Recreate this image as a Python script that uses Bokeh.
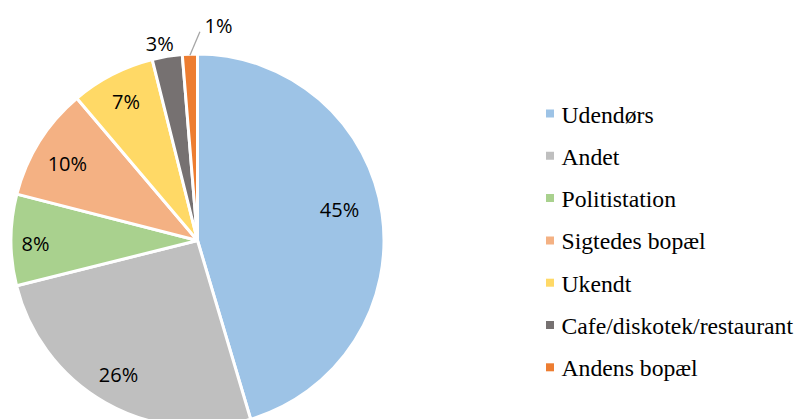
import math
from bokeh.plotting import figure
from bokeh.models import Range1d
from bokeh.core.properties import value
from bokeh.embed import file_html
from bokeh.resources import INLINE

# ---- data ----
categories = ["Udendørs", "Andet", "Politistation", "Sigtedes bopæl",
              "Ukendt", "Cafe/diskotek/restaurant", "Andens bopæl"]
shares = [45.4, 25.7, 7.9, 9.8, 7.3, 2.6, 1.3]
colors = ["#9DC3E6", "#BFBFBF", "#A9D18E", "#F4B183", "#FFD966", "#767171", "#ED7D31"]

# ---- layout (pixel-like data space; y measured upward) ----
W, H = 798, 419
def Y(img_y):
    return H - img_y

cx, cy, R = 197, Y(240), 186.5
label_frac = [0.78, 0.832, 0.869, 0.811, 0.84, 1.076, 1.158]
label_shift = [-4.2, 0.9, -1.1, -1.4, 0.0, -1.5, 7.9]   # degrees clockwise

p = figure(width=W, height=H, output_backend="svg", toolbar_location=None,
           x_range=Range1d(0, W), y_range=Range1d(0, H),
           min_border=0, outline_line_color=None)
p.axis.visible = False
p.grid.visible = False
p.background_fill_color = "white"
p.border_fill_color = "white"

total = sum(shares)
cum = 0.0
starts, ends, mids = [], [], []
for s in shares:
    a = cum / total
    cum += s
    b = cum / total
    starts.append(math.radians(90 - b * 360))
    ends.append(math.radians(90 - a * 360))
    mids.append((a + b) / 2 * 360)  # clockwise degrees from top

p.wedge(x=cx, y=cy, radius=R, start_angle=starts, end_angle=ends,
        fill_color=colors, line_color="white", line_width=3)

lx, ly, lt = [], [], []
for i, s in enumerate(shares):
    ang = math.radians(mids[i] + label_shift[i])
    r = label_frac[i] * R
    lx.append(cx + r * math.sin(ang))
    ly.append(cy + r * math.cos(ang))
    lt.append(f"{round(s)}%")

# leader line for the smallest slice
last = len(shares) - 1
a0 = math.radians(mids[last])
a1 = math.radians(mids[last] + 3)
p.line(x=[cx + (R - 1) * math.sin(a0), cx + 1.12 * R * math.sin(a1)],
       y=[cy + (R - 1) * math.cos(a0), cy + 1.12 * R * math.cos(a1)],
       line_color="#A6A6A6", line_width=1.3)

p.text(x=lx, y=ly, text=lt, text_align="center", text_baseline="middle",
       text_font=value("Open Sans"), text_font_size="20px", text_color="#000000")

# legend
row0, step = 113, 42.3
leg_y = [Y(row0 + k * step) for k in range(len(categories))]
p.rect(x=[549.5] * len(categories), y=leg_y, width=8, height=8,
       width_units="screen", height_units="screen",
       fill_color=colors, line_color=None)
p.text(x=[561] * len(categories), y=[v - 1 for v in leg_y], text=categories,
       text_align="left", text_baseline="middle",
       text_font=value("Liberation Serif, Times New Roman, serif"),
       text_font_size="23.7px", text_color="#000000")

open("out.html", "w").write(file_html(p, INLINE))
